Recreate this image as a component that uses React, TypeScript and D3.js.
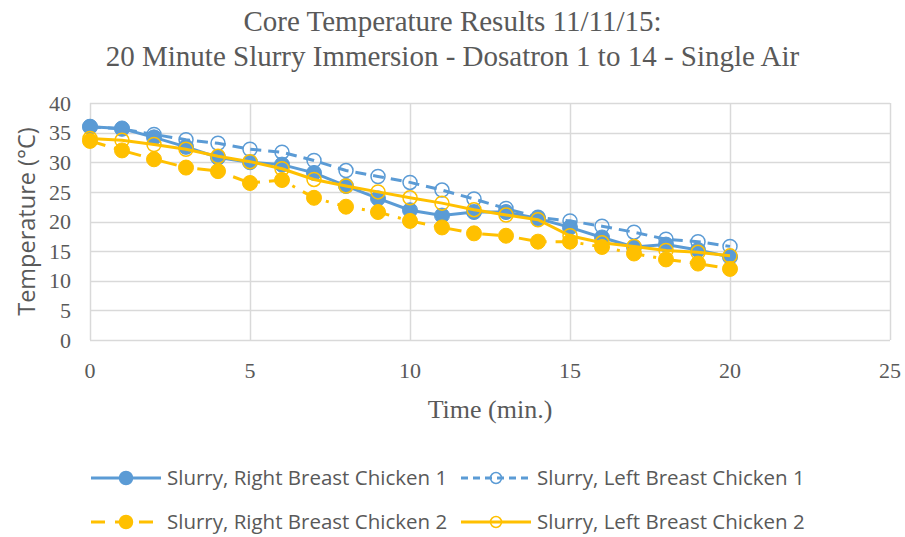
import { useEffect, useRef } from "react";
import * as d3 from "d3";

const times = [0, 1, 2, 3, 4, 5, 6, 7, 8, 9, 10, 11, 12, 13, 14, 15, 16, 17, 18, 19, 20];

const rightChicken1 = [36, 35.7, 34.2, 32.6, 30.8, 30, 29.6, 28.2, 26, 23.9, 21.9, 21, 21.6, 21.6, 20.5, 19, 17.3, 15.7, 16.1, 15.2, 14];
const leftChicken1 = [36, 35.6, 34.7, 33.8, 33.2, 32.2, 31.7, 30.3, 28.6, 27.6, 26.6, 25.3, 23.8, 22.2, 20.7, 20.1, 19.2, 18.2, 17, 16.6, 15.8];
const rightChicken2 = [33.6, 32, 30.5, 29.1, 28.5, 26.5, 27, 24, 22.5, 21.6, 20.1, 19, 18, 17.6, 16.6, 16.6, 15.7, 14.6, 13.6, 12.9, 12];
const leftChicken2 = [34, 33.7, 33, 32.2, 31, 30.1, 28.9, 27.1, 26, 25, 24, 23.1, 22, 21.1, 20.3, 17.6, 16.4, 15.8, 15.1, 14.8, 14.2];

const xTicks = [0, 5, 10, 15, 20, 25];
const yTicks = [0, 5, 10, 15, 20, 25, 30, 35, 40];

const titleLines = [
  "Core Temperature Results 11/11/15:",
  "20 Minute Slurry Immersion - Dosatron 1 to 14 - Single Air",
];

const BLUE = "#5b9bd5";
const YELLOW = "#ffc000";
const GRID = "#d9d9d9";
const TEXT = "#595959";

const series = [
  { name: "Slurry, Right Breast Chicken 1", values: rightChicken1, color: BLUE, dash: null, filled: true },
  { name: "Slurry, Left Breast Chicken 1", values: leftChicken1, color: BLUE, dash: "11,7", filled: false },
  { name: "Slurry, Right Breast Chicken 2", values: rightChicken2, color: YELLOW, dash: "16,9,3,9", filled: true },
  { name: "Slurry, Left Breast Chicken 2", values: leftChicken2, color: YELLOW, dash: null, filled: false },
];

export default function App() {
  const ref = useRef<HTMLDivElement>(null);

  useEffect(() => {
    if (!ref.current) return;
    document.body.style.margin = "0";
    d3.select(ref.current).selectAll("*").remove();

    const W = 905;
    const H = 537;
    const margin = { top: 103, right: 15, bottom: 197, left: 90 };
    const width = W - margin.left - margin.right;
    const height = H - margin.top - margin.bottom;

    const svg = d3
      .select(ref.current)
      .append("svg")
      .attr("width", W)
      .attr("height", H)
      .style("display", "block")
      .style("background", "#fff");

    const g = svg.append("g").attr("transform", `translate(${margin.left},${margin.top})`);

    const x = d3.scaleLinear().domain([0, 25]).range([0, width]);
    const y = d3.scaleLinear().domain([0, 40]).range([height, 0]);

    // Title
    svg
      .append("g")
      .selectAll("text")
      .data(titleLines)
      .join("text")
      .attr("x", W / 2)
      .attr("y", (_, i) => 31 + i * 35)
      .attr("text-anchor", "middle")
      .attr("font-family", "'Liberation Serif', 'Times New Roman', serif")
      .attr("font-size", "29px")
      .attr("fill", TEXT)
      .text((d) => d);

    // Grid
    g.append("g")
      .selectAll("line")
      .data(yTicks)
      .join("line")
      .attr("x1", 0)
      .attr("x2", width)
      .attr("y1", (d) => Math.round(y(d)) + 0.5)
      .attr("y2", (d) => Math.round(y(d)) + 0.5)
      .attr("stroke", GRID)
      .attr("stroke-width", 1.5);

    g.append("g")
      .selectAll("line")
      .data(xTicks)
      .join("line")
      .attr("x1", (d) => Math.round(x(d)) + 0.5)
      .attr("x2", (d) => Math.round(x(d)) + 0.5)
      .attr("y1", 0)
      .attr("y2", height)
      .attr("stroke", GRID)
      .attr("stroke-width", 1.5);

    // Axis labels
    g.append("g")
      .selectAll("text")
      .data(yTicks)
      .join("text")
      .attr("x", -19)
      .attr("y", (d) => y(d))
      .attr("dy", "0.35em")
      .attr("text-anchor", "end")
      .attr("font-family", "'Liberation Serif', serif")
      .attr("font-size", "22px")
      .attr("fill", TEXT)
      .text((d) => d);

    g.append("g")
      .selectAll("text")
      .data(xTicks)
      .join("text")
      .attr("x", (d) => x(d))
      .attr("y", height + 38)
      .attr("text-anchor", "middle")
      .attr("font-family", "'Liberation Serif', serif")
      .attr("font-size", "22px")
      .attr("fill", TEXT)
      .text((d) => d);

    svg
      .append("text")
      .attr("transform", `translate(35,${margin.top + height / 2}) rotate(-90)`)
      .attr("text-anchor", "middle")
      .attr("font-family", "'Open Sans', sans-serif")
      .attr("font-size", "23.5px")
      .attr("fill", TEXT)
      .text("Temperature (°C)");

    svg
      .append("text")
      .attr("x", margin.left + x(12.5))
      .attr("y", 418)
      .attr("text-anchor", "middle")
      .attr("font-family", "'Liberation Serif', serif")
      .attr("font-size", "26px")
      .attr("fill", TEXT)
      .text("Time (min.)");

    // Series
    const line = d3
      .line<number>()
      .x((_, i) => x(times[i]))
      .y((d) => y(d));

    series.forEach((s) => {
      const sg = g.append("g");
      sg.append("path")
        .datum(s.values)
        .attr("fill", "none")
        .attr("stroke", s.color)
        .attr("stroke-width", 3)
        .attr("stroke-dasharray", s.dash)
        .attr("d", line);
      sg.selectAll("circle")
        .data(s.values)
        .join("circle")
        .attr("cx", (_, i) => x(times[i]))
        .attr("cy", (d) => y(d))
        .attr("r", s.filled ? 7.5 : 7)
        .attr("fill", s.filled ? s.color : "none")
        .attr("stroke", s.color)
        .attr("stroke-width", s.filled ? 1 : 1.5);
    });

    // Legend
    const legend = svg.append("g");
    series.forEach((s, i) => {
      const col = i % 2;
      const row = Math.floor(i / 2);
      const lx = col === 0 ? 91 : 461;
      const ly = 478 + row * 44;
      const item = legend.append("g").attr("transform", `translate(${lx},${ly})`);
      item
        .append("line")
        .attr("x1", 0)
        .attr("x2", 70)
        .attr("y1", 0)
        .attr("y2", 0)
        .attr("stroke", s.color)
        .attr("stroke-width", 3)
        .attr("stroke-dasharray", s.dash ? (s.filled ? "14,10" : "7,5") : null);
      item
        .append("circle")
        .attr("cx", 35)
        .attr("cy", 0)
        .attr("r", s.filled ? 6.5 : 5.5)
        .attr("fill", s.filled ? s.color : "none")
        .attr("stroke", s.color)
        .attr("stroke-width", 1.5);
      item
        .append("text")
        .attr("x", 76)
        .attr("y", 0)
        .attr("dy", "0.35em")
        .attr("font-family", "'Open Sans', sans-serif")
        .attr("font-size", "20.5px")
        .attr("fill", TEXT)
        .text(s.name);
    });
  }, []);

  return <div ref={ref} />;
}
